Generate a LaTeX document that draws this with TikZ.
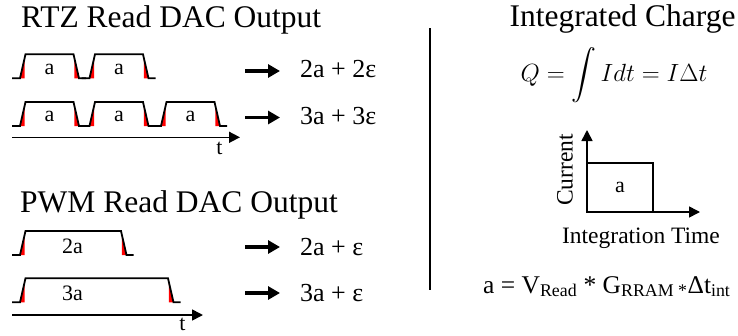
\documentclass[tikz,border=0pt]{standalone}
\usepackage{amsmath}
\usepackage{fontspec}
\setmainfont{Liberation Serif}
\usetikzlibrary{arrows.meta, positioning}
\tikzset{
    titletext/.style={inner sep=0pt, anchor=base west, font=\fontsize{31.5}{36}\selectfont},
    bodytext/.style={inner sep=0pt, font=\fontsize{23.5}{28}\selectfont},
    restext/.style={inner sep=0pt, anchor=base west, font=\fontsize{26}{30}\selectfont},
    pulselbl/.style={inner sep=0pt, anchor=base, font=\fontsize{22}{26}\selectfont},
    sig/.style={line width=1.8pt},
    rampfill/.style={fill=red},
    pics/pulse/.style={code={
        \fill[rampfill] (-0.3,0) -- (4.6,-19.5) -- (4.6,0) -- cycle;
        \fill[rampfill] (#1+6.4,-19.5) -- (#1+6.4,0) -- (#1+11.3,0) -- cycle;
        \draw[sig] (-8,0) -- (0,0) -- (5.5,-24) -- (#1+5.5,-24) -- (#1+11,0) -- (#1+18,0);
    }}
}

\begin{document}
\begin{tikzpicture}[x=1pt, y=-1pt,
  timeaxis/.style={line width=1.6pt, -{Triangle[length=11pt,width=11pt]}},
  resarrow/.style={line width=3.3pt, -{Triangle[length=12pt,width=13pt]}, shorten >=20pt},
  plotbox/.style={draw, line width=1.6pt, outer sep=0pt, inner sep=0pt, minimum width=66pt, minimum height=49pt, font=\fontsize{22}{26}\selectfont}]
  \useasboundingbox (0,0) rectangle (738,335);
  \node[titletext] (rtztitle) at (21,27.3) {RTZ Read DAC Output};
  \pic at (20,78.3) {pulse=48};
  \pic at (89.5,78.3) {pulse=48};
  \node[pulselbl] (ra1) at (49.5,74) {a};
  \node[pulselbl] (ra2) at (119,74) {a};
  \pic at (20,126) {pulse=48};
  \pic at (89.5,126) {pulse=48};
  \pic at (161,126) {pulse=48};
  \node[pulselbl] (rb1) at (49.5,121.7) {a};
  \node[pulselbl] (rb2) at (119,121.7) {a};
  \node[pulselbl] (rb3) at (190.5,121.7) {a};
  \coordinate (rtzstart) at (12,137.3);
  \coordinate (rtzend) at (240,137.3);
  \draw[timeaxis] (rtzstart) -- (rtzend);
  \node[pulselbl] (rtzt) at (219.5,154) {t};
  \node[restext] (res1) at (300,77) {2a + 2ε};
  \node[restext] (res2) at (300,124) {3a + 3ε};
  \coordinate (arr1) at (245,71);
  \coordinate (arr2) at (245,117.5);
  \draw[resarrow] (arr1) -- (arr1 -| res1.west);
  \draw[resarrow] (arr2) -- (arr2 -| res2.west);

  \node[titletext] (pwmtitle) at (20,212) {PWM Read DAC Output};
  \pic at (20,255) {pulse=95.5};
  \pic at (20,302.3) {pulse=142.5};
  \node[pulselbl] (pa1) at (72.5,253) {2a};
  \node[pulselbl] (pa2) at (72.5,300.7) {3a};
  \coordinate (pwmstart) at (12,315);
  \coordinate (pwmend) at (203,315);
  \draw[timeaxis] (pwmstart) -- (pwmend);
  \node[pulselbl] (pwmt) at (182.5,330.5) {t};
  \node[restext] (res3) at (300,255.5) {2a + ε};
  \node[restext] (res4) at (300,301.5) {3a + ε};
  \coordinate (arr3) at (245,247);
  \coordinate (arr4) at (245,293);
  \draw[resarrow] (arr3) -- (arr3 -| res3.west);
  \draw[resarrow] (arr4) -- (arr4 -| res4.west);

  \coordinate (divtop) at (430,28);
  \coordinate (divbot) at (430,290);
  \draw[line width=1.8pt] (divtop) -- (divbot);

  \node[titletext, anchor=base] (qtitle) at (622.5,26.5) {Integrated Charge};
  \node[inner sep=0pt, font=\fontsize{24.88}{29}\selectfont] (qeq) at (614,75) {$Q = \smash{\displaystyle\int}\, I dt = I\Delta t$};
  \coordinate (org) at (587,212);
  \coordinate (ytip) at (587,130);
  \coordinate (xtip) at (700,212);
  \node[plotbox, anchor=south west] (abox) at (org) {a};
  \draw[timeaxis] (org) -- (ytip);
  \draw[timeaxis] (org) -- (xtip);
  \node[bodytext, rotate=90] (cur) at (565,170) {Current};
  \node[bodytext, anchor=base] (itime) at (641,243.3) {Integration Time};
  \node[bodytext, anchor=base west, font=\fontsize{25.5}{29}\selectfont] (aeq) at (483,293) {a = V\textsubscript{Read} * G\textsubscript{RRAM *}Δt\textsubscript{int}};
\end{tikzpicture}
\end{document}
